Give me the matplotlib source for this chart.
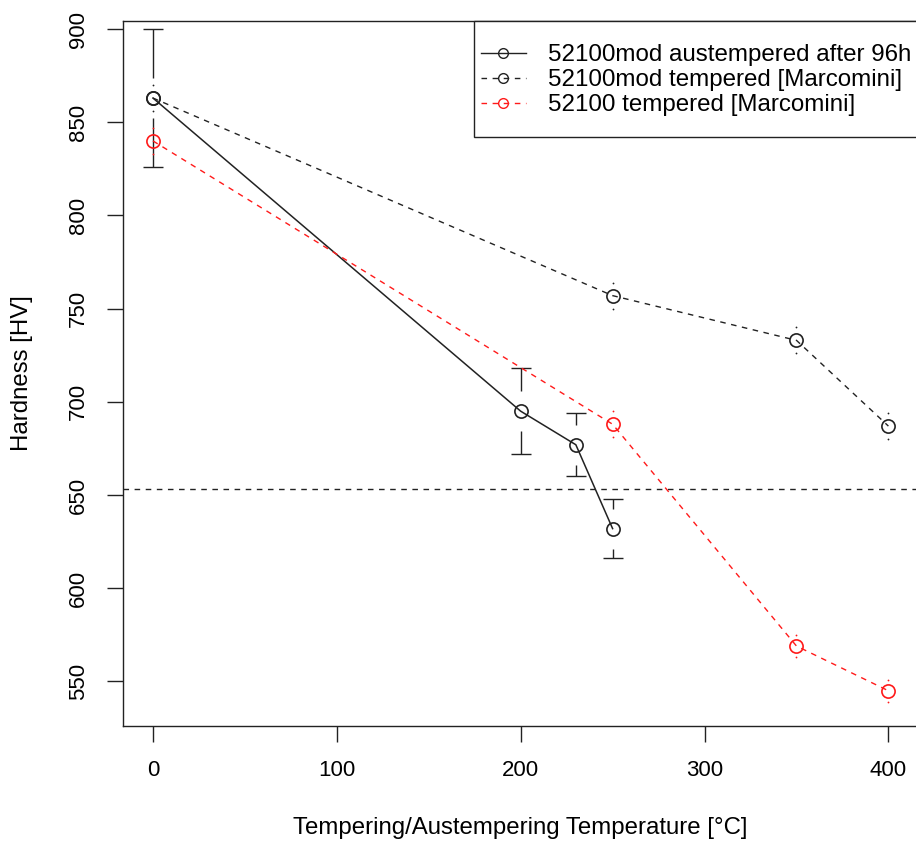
import matplotlib
matplotlib.use('Agg')
import matplotlib.pyplot as plt
from matplotlib.lines import Line2D
from matplotlib.patches import Rectangle

plt.rcParams['font.family'] = ['Liberation Sans', 'DejaVu Sans']

# 52100mod austempered, hardness after 96h
aus_temp = [0, 200, 230, 250]
aus_hv = [863, 695, 677, 632]
aus_err = [37, 23, 17, 16]

# 52100mod tempered (Marcomini)
mod_temp = [0, 250, 350, 400]
mod_hv = [863, 757, 733, 687]
mod_err = [7, 7, 7, 7]

# 52100 tempered (Marcomini)
std_temp = [0, 250, 350, 400]
std_hv = [840, 688, 569, 545]
std_err = [7, 7, 6, 6]

limit_hv = 653

x_ticks = [0, 100, 200, 300, 400]
y_ticks = [550, 600, 650, 700, 750, 800, 850, 900]

labels = ['52100mod austempered after 96h',
          '52100mod tempered [Marcomini]',
          '52100 tempered [Marcomini]']

DARK = '#222222'
RED = '#ff1a1a'
DASH = (0, (4, 4))


def error_bars(ax, x, y, err, color, gap=10.7, cap=5.5):
    # plotCI-like bars: leave a gap around the point
    for xi, yi, ei in zip(x, y, err):
        if ei > gap:
            ax.vlines([xi, xi], [yi + gap, yi - ei], [yi + ei, yi - gap],
                      color=color, lw=1.0, zorder=2)
            ax.hlines([yi + ei, yi - ei], xi - cap, xi + cap,
                      color=color, lw=1.0, zorder=2)
        else:
            ax.plot([xi, xi], [yi + ei, yi - ei], ls='none', marker='o',
                    ms=1.3, mew=0, color=color, zorder=2)


fig = plt.figure(figsize=(9.16, 8.42), dpi=100)
W, H = 916, 842
left, right, top, bottom = 123, 918, 20.7, 726
ax = fig.add_axes([left / W, (H - bottom) / H, (right - left) / W, (bottom - top) / H])

ax.axhline(limit_hv, color=DARK, lw=1.0, ls=DASH, zorder=1)

mk = dict(marker='o', ms=9.5, mfc='none', mew=1.2)
ax.plot(aus_temp, aus_hv, color=DARK, lw=1.1, zorder=3, **mk)
ax.plot(mod_temp, mod_hv, color=DARK, lw=1.0, ls=DASH, zorder=3, **mk)
ax.plot(std_temp, std_hv, color=RED, lw=1.0, ls=DASH, zorder=3, **mk)

error_bars(ax, aus_temp, aus_hv, aus_err, DARK)
error_bars(ax, mod_temp, mod_hv, mod_err, DARK)
error_bars(ax, std_temp, std_hv, std_err, RED)

ax.set_xlim(-16.3, 416.1)
ax.set_ylim(526.1, 904.5)
ax.set_xticks(x_ticks)
ax.set_yticks(y_ticks)
ax.set_yticklabels([str(v) for v in y_ticks], rotation=90, va='center')
ax.tick_params(direction='out', length=11.3, width=1.0, color=DARK,
               labelsize=16, labelcolor='black')
ax.tick_params(axis='x', pad=13)
ax.tick_params(axis='y', pad=13)
for sp in ax.spines.values():
    sp.set_color(DARK)
    sp.set_linewidth(1.0)

ax.set_xlabel('Tempering/Austempering Temperature [°C]', fontsize=17.3, va='center')
ax.xaxis.set_label_coords(0.5, (bottom - 828) / (bottom - top))
ax.set_ylabel('Hardness [HV]', fontsize=17.3, va='center')
ax.yaxis.set_label_coords((22 - left) / (right - left), 0.5)

# legend box in the top right corner
box_x = (474 - left) / (right - left)
box_y = (bottom - 136.7) / (bottom - top)
ax.add_patch(Rectangle((box_x, box_y), 1 - box_x, 1 - box_y, transform=ax.transAxes,
                       facecolor='white', edgecolor=DARK, lw=1.0, zorder=4, clip_on=False))

lmk = dict(marker='o', ms=7, mfc='none', mew=1.0)
handles = [Line2D([], [], color=DARK, lw=1.0, **lmk),
           Line2D([], [], color=DARK, lw=1.0, ls=DASH, **lmk),
           Line2D([], [], color=RED, lw=1.0, ls=DASH, **lmk)]
leg = ax.legend(handles, labels, loc='center left',
                bbox_to_anchor=((481 - left) / (right - left), (bottom - 80.4) / (bottom - top)),
                frameon=False, fontsize=17.4, borderpad=0, borderaxespad=0,
                handlelength=1.86, handletextpad=0.9, labelspacing=0.12)
leg.set_zorder(5)

fig.savefig('out.png', dpi=100, facecolor='white')
